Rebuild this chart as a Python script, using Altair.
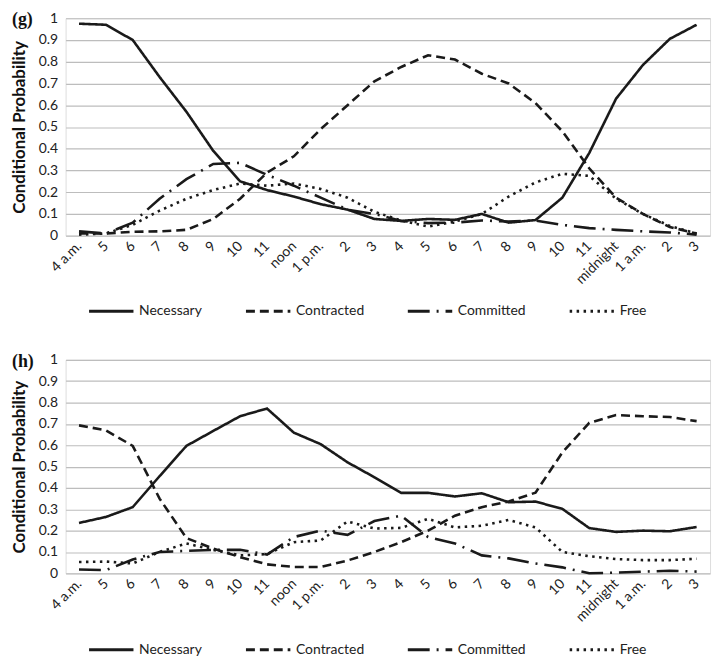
import json
import altair as alt
import pandas as pd

hours = ["4 a.m.", "5", "6", "7", "8", "9", "10", "11", "noon", "1 p.m.", "2", "3",
         "4", "5", "6", "7", "8", "9", "10", "11", "midnight", "1 a.m.", "2", "3"]
series = ["Necessary", "Contracted", "Committed", "Free"]
y_ticks = [0, 0.1, 0.2, 0.3, 0.4, 0.5, 0.6, 0.7, 0.8, 0.9, 1]

g_necessary = [0.975, 0.97, 0.90, 0.73, 0.57, 0.39, 0.25, 0.21, 0.18, 0.145, 0.12, 0.077,
               0.068, 0.077, 0.073, 0.10, 0.06, 0.072, 0.175, 0.38, 0.63, 0.785, 0.905, 0.97]
g_contracted = [0.01, 0.01, 0.018, 0.02, 0.027, 0.077, 0.17, 0.29, 0.365, 0.49, 0.60, 0.71,
                0.776, 0.83, 0.81, 0.745, 0.70, 0.61, 0.48, 0.31, 0.175, 0.10, 0.04, 0.01]
g_committed = [0.02, 0.01, 0.06, 0.17, 0.26, 0.33, 0.335, 0.28, 0.23, 0.175, 0.12, 0.10,
               0.068, 0.058, 0.06, 0.07, 0.065, 0.07, 0.05, 0.035, 0.027, 0.02, 0.015, 0.005]
g_free = [0.005, 0.01, 0.05, 0.115, 0.17, 0.21, 0.24, 0.23, 0.24, 0.215, 0.175, 0.11,
          0.07, 0.042, 0.065, 0.10, 0.18, 0.245, 0.285, 0.275, 0.17, 0.10, 0.045, 0.01]

h_necessary = [0.236, 0.264, 0.31, 0.455, 0.597, 0.667, 0.736, 0.772, 0.659, 0.605, 0.52, 0.45,
               0.377, 0.377, 0.36, 0.375, 0.333, 0.336, 0.302, 0.212, 0.194, 0.20, 0.197, 0.217]
h_contracted = [0.693, 0.67, 0.597, 0.35, 0.165, 0.116, 0.076, 0.042, 0.03, 0.03, 0.06, 0.10,
                0.146, 0.20, 0.27, 0.31, 0.336, 0.378, 0.566, 0.705, 0.741, 0.736, 0.732, 0.713]
h_committed = [0.018, 0.015, 0.065, 0.10, 0.105, 0.11, 0.11, 0.088, 0.17, 0.20, 0.18, 0.245,
               0.27, 0.17, 0.14, 0.084, 0.07, 0.046, 0.028, 0.0, 0.003, 0.008, 0.012, 0.008]
h_free = [0.053, 0.055, 0.046, 0.10, 0.14, 0.11, 0.084, 0.09, 0.146, 0.154, 0.243, 0.21,
          0.213, 0.255, 0.215, 0.223, 0.25, 0.215, 0.10, 0.08, 0.067, 0.062, 0.062, 0.068]

dashes = [[1, 0], [9, 5], [22, 7, 2, 7], [2.5, 4.5]]


def make_df(vals):
    rows = []
    for s, v in zip(series, vals):
        for i, val in enumerate(v):
            rows.append({"idx": i, "series": s, "value": val})
    return pd.DataFrame(rows)


label_expr = json.dumps(hours) + "[datum.value]"
FONT = "Lato"


def panel(df, tag, h, legend_y):
    lines = alt.Chart(df).mark_line(color="#1a1a1a", strokeWidth=2.6).encode(
        x=alt.X("idx:Q",
                scale=alt.Scale(domain=[-0.5, 23.5], nice=False, zero=False),
                axis=alt.Axis(values=list(range(24)), labelExpr=label_expr,
                              labelAngle=-45, labelAlign="right", labelBaseline="middle",
                              labelOverlap=False, labelFlush=False,
                              grid=False, ticks=False, domain=False, title=None,
                              labelFontSize=14, labelPadding=8, labelColor="#222",
                              labelFont=FONT)),
        y=alt.Y("value:Q",
                scale=alt.Scale(domain=[0, 1], nice=False),
                axis=alt.Axis(values=y_ticks, format="~g", title="Conditional Probability",
                              titleFontSize=17, titleFontWeight="bold", titleFont=FONT,
                              titleColor="#111", titlePadding=10,
                              labelFontSize=14, labelFont=FONT, labelColor="#222",
                              labelPadding=8, ticks=False, domain=False, labelOverlap=False,
                              grid=True, gridColor="#bdbdbd", gridWidth=1.2)),
        strokeDash=alt.StrokeDash(
            "series:N",
            scale=alt.Scale(domain=series, range=dashes),
            legend=alt.Legend(orient="none", legendX=22, legendY=legend_y,
                              direction="horizontal", columns=4, title=None,
                              symbolType="stroke", symbolSize=2000, symbolStrokeWidth=3,
                              symbolStrokeColor="#1a1a1a", labelFontSize=14,
                              labelFont=FONT, labelColor="#222", columnPadding=37,
                              labelOffset=4)),
        detail="series:N",
    )
    tag_df = pd.DataFrame({"t": [tag]})
    label = alt.Chart(tag_df).mark_text(
        font="Liberation Serif", fontSize=18, fontWeight="bold", align="left",
        baseline="middle", color="#111"
    ).encode(x=alt.value(-54), y=alt.value(2), text="t:N")
    return alt.layer(lines, label).properties(width=649, height=h)


chart = alt.vconcat(
    panel(make_df([g_necessary, g_contracted, g_committed, g_free]), "(g)", 219, 271),
    panel(make_df([h_necessary, h_contracted, h_committed, h_free]), "(h)", 215, 268),
    spacing=33,
).resolve_scale(strokeDash="independent").resolve_legend(strokeDash="independent").properties(
    padding={"left": 1, "top": 0, "right": 5, "bottom": 5}
).configure_view(stroke=None).configure(background="white")

chart.save("out.html", embed_options={"renderer": "svg", "actions": False})
